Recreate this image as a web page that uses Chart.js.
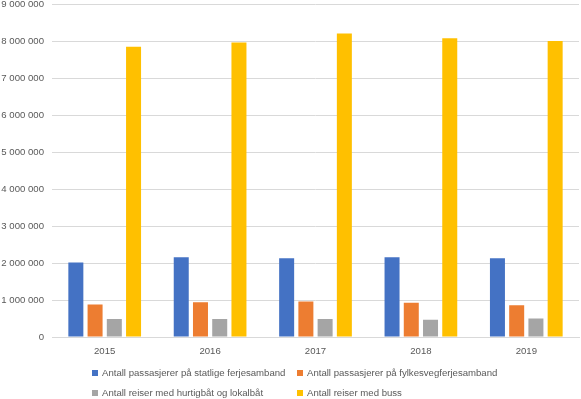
<!DOCTYPE html>
<html><head><meta charset="utf-8">
<script src="https://cdn.jsdelivr.net/npm/chart.js@4"></script>
<style>
html,body{margin:0;padding:0;background:#fff;width:581px;height:399px;overflow:hidden;font-family:"Liberation Sans",Arial,sans-serif;}
#wrap{position:absolute;left:0;top:-9px;width:581px;height:370px;}
#legend{position:absolute;left:0;top:0;width:581px;height:399px;pointer-events:none;font-size:9.6px;color:#595959;}
.li{position:absolute;white-space:nowrap;line-height:12px;}
.sw{display:inline-block;width:6px;height:6px;margin-right:4px;vertical-align:0px;}
</style></head><body>
<div id="wrap"><canvas id="c"></canvas></div>
<div id="legend"></div>
<script>
const categories = ["2015","2016","2017","2018","2019"];
const seriesNames = [
  "Antall passasjerer på statlige ferjesamband",
  "Antall passasjerer på fylkesvegferjesamband",
  "Antall reiser med hurtigbåt og lokalbåt",
  "Antall reiser med buss"
];
const statlige = [2020000, 2160000, 2130000, 2160000, 2130000];
const fylkesveg = [880000, 940000, 965000, 930000, 860000];
const hurtigbat = [490000, 490000, 490000, 470000, 500000];
const buss = [7860000, 7980000, 8220000, 8090000, 8020000];
const colors = ["#4472C4","#ED7D31","#A5A5A5","#FFC000"];
const yTicks = [0,1000000,2000000,3000000,4000000,5000000,6000000,7000000,8000000,9000000];

function fmt(v){ return String(v).replace(/\B(?=(\d{3})+(?!\d))/g, " "); }

const values = [statlige, fylkesveg, hurtigbat, buss];
new Chart(document.getElementById('c'), {
  type: 'bar',
  data: {
    labels: categories,
    datasets: values.map((d,i)=>({label: seriesNames[i], data: d, backgroundColor: colors[i], borderWidth: 0,
      categoryPercentage: 0.73, barPercentage: 0.78}))
  },
  options: {
    responsive: true, maintainAspectRatio: false, animation: false,
    layout: {padding: {top: 0, right: 2, left: 0, bottom: 0}},
    plugins: {legend: {display: false}, tooltip: {enabled: false}},
    scales: {
      x: {
        grid: {display: false, drawTicks: false},
        border: {display: true, color: '#D9D9D9', width: 1},
        ticks: {color: '#595959', font: {family: '"Liberation Sans", Arial, sans-serif', size: 9.6}, padding: 9},
        afterFit: s => { s.height = 24; }
      },
      y: {
        min: 0, max: 9000000,
        afterBuildTicks: s => { s.ticks = yTicks.map(v=>({value:v})); },
        grid: {color: '#D9D9D9', lineWidth: 1, drawTicks: false},
        border: {display: false},
        ticks: {color: '#595959', font: {family: '"Liberation Sans", Arial, sans-serif', size: 9.6}, padding: 8,
          callback: v => fmt(v)},
        afterFit: s => { s.width = 52; }
      }
    }
  }
});

const lg = document.getElementById('legend');
const pos = [[92,367],[297,367],[92,387],[297,387]];
seriesNames.forEach((n,i)=>{
  const d = document.createElement('div');
  d.className='li';
  d.style.left=pos[i][0]+'px'; d.style.top=pos[i][1]+'px';
  d.innerHTML='<span class="sw" style="background:'+colors[i]+'"></span>'+n;
  lg.appendChild(d);
});
</script>
</body></html>
